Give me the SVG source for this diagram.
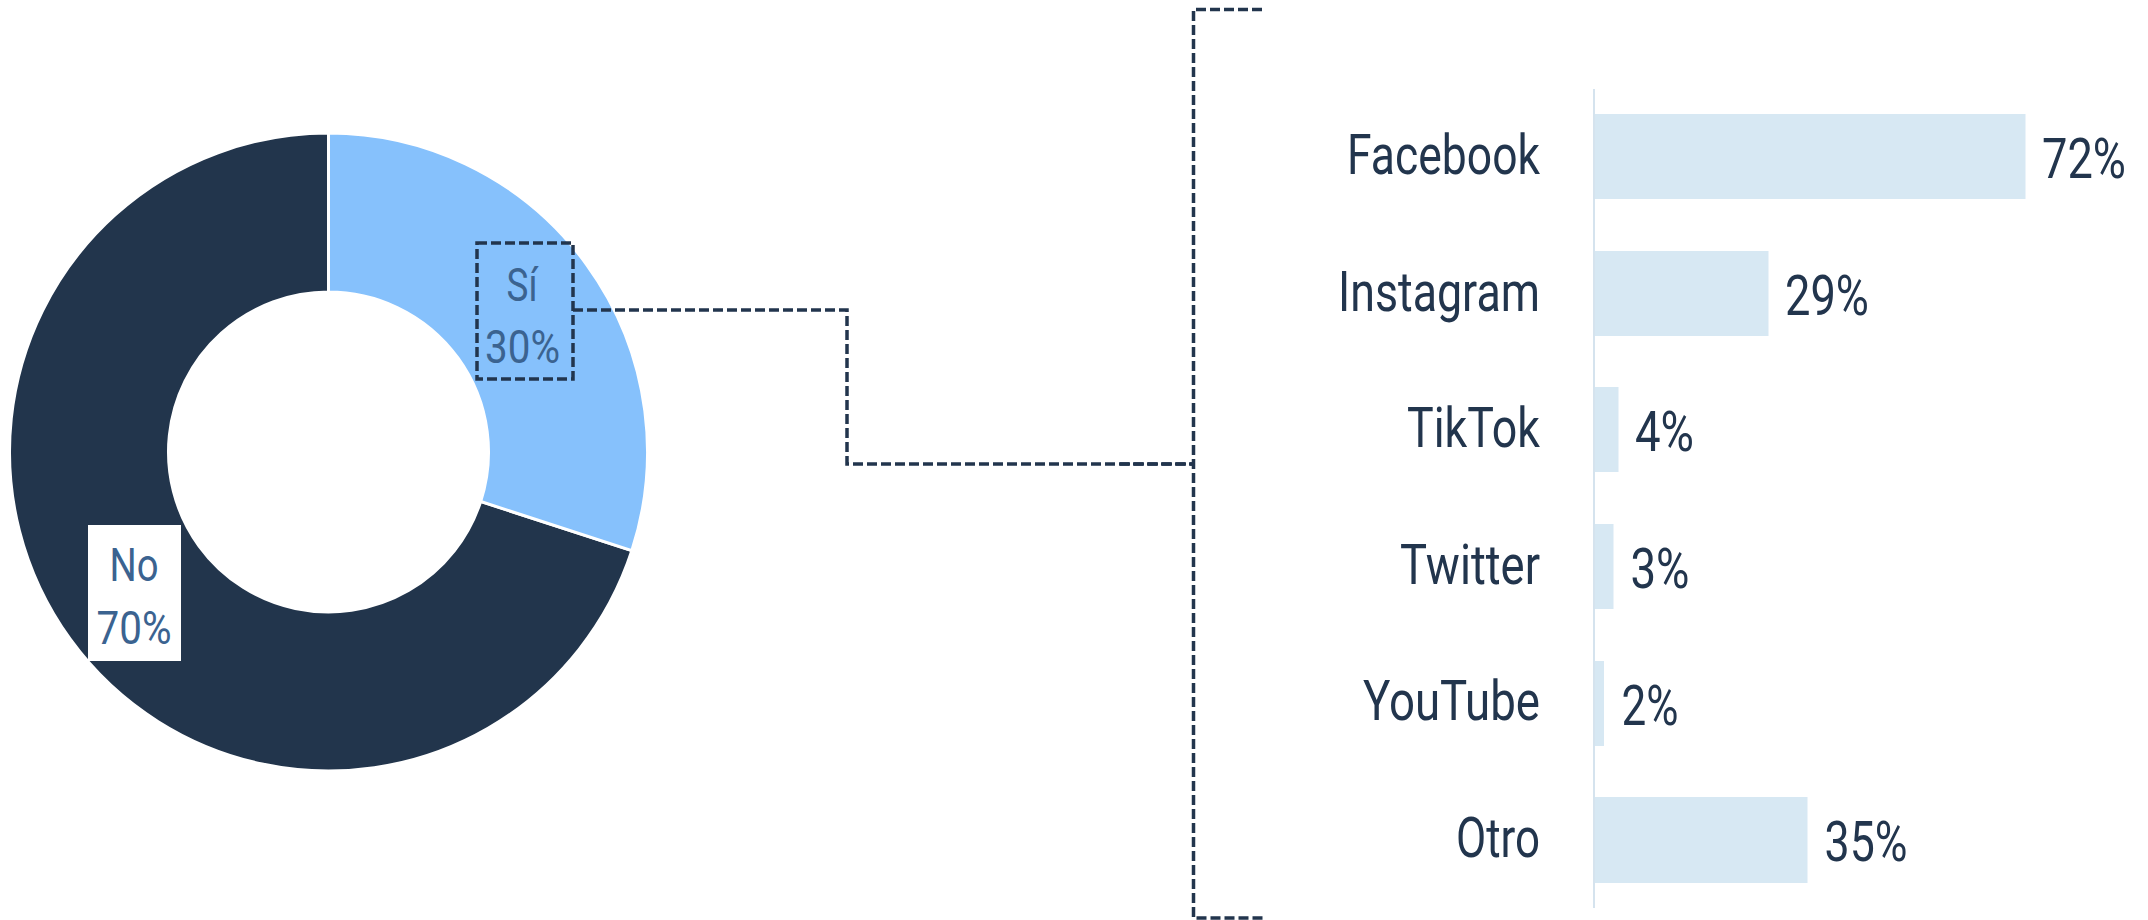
<svg xmlns="http://www.w3.org/2000/svg" width="2148" height="920" viewBox="0 0 2148 920">
<style>
.lbl{font-family:Roboto,"Liberation Sans",sans-serif;font-size:55px;fill:#22354d;}
.cat{text-anchor:end;}
.pie{font-family:Roboto,"Liberation Sans",sans-serif;font-size:47px;fill:#3b6390;text-anchor:middle;}
.bar{fill:#d7e8f3;}
.dash{fill:none;stroke:#22354d;stroke-width:3.5;stroke-dasharray:10 4;}
</style>
<rect width="2148" height="920" fill="#ffffff"/>
<g id="donut">
<path id="slice-no" d="M 631.89 550.58 A 319 319 0 1 1 328.5 133 L 328.5 292 A 160 160 0 1 0 480.67 501.44 Z" fill="#22354c" stroke="#ffffff" stroke-width="3"/>
<path id="slice-si" d="M 328.5 133 A 319 319 0 0 1 631.89 550.58 L 480.67 501.44 A 160 160 0 0 0 328.5 292 Z" fill="#86c1fc" stroke="#ffffff" stroke-width="3"/>
</g>
<g id="label-no">
<rect x="88" y="525" width="93" height="136" fill="#ffffff"/>
<text class="pie" x="134" y="581" textLength="49" lengthAdjust="spacingAndGlyphs">No</text>
<text class="pie" x="134" y="644" textLength="75" lengthAdjust="spacingAndGlyphs">70%</text>
</g>
<g id="label-si">
<rect x="477" y="243" width="96" height="136" fill="#ffffff" class="dash"/>
<text class="pie" x="522" y="301" textLength="31" lengthAdjust="spacingAndGlyphs">Sí</text>
<text class="pie" x="522.5" y="363" textLength="75" lengthAdjust="spacingAndGlyphs">30%</text>
</g>
<g id="connectors">
<path class="dash" d="M 573 310 H 847 V 464 H 1194"/>
<path class="dash" d="M 1262 9.5 H 1193.5 V 918 H 1265"/>
<path class="dash" d="M 1120 464 H 1194"/>
</g>
<g id="bar-chart">
<line x1="1594" y1="89" x2="1594" y2="908" stroke="#d5e3ee" stroke-width="2"/>
<g id="bar-facebook">
<rect class="bar" x="1595" y="114" width="430.5" height="85"/>
<text class="lbl cat" x="1540" y="173.5" textLength="193" lengthAdjust="spacingAndGlyphs">Facebook</text>
<text class="lbl" x="2042" y="178" textLength="84" lengthAdjust="spacingAndGlyphs">72%</text>
</g>
<g id="bar-instagram">
<rect class="bar" x="1595" y="251" width="173.5" height="85"/>
<text class="lbl cat" x="1540" y="310.5" textLength="202" lengthAdjust="spacingAndGlyphs">Instagram</text>
<text class="lbl" x="1785" y="315" textLength="84" lengthAdjust="spacingAndGlyphs">29%</text>
</g>
<g id="bar-tiktok">
<rect class="bar" x="1595" y="387" width="23.5" height="85"/>
<text class="lbl cat" x="1540" y="447" textLength="133" lengthAdjust="spacingAndGlyphs">TikTok</text>
<text class="lbl" x="1635" y="451" textLength="59" lengthAdjust="spacingAndGlyphs">4%</text>
</g>
<g id="bar-twitter">
<rect class="bar" x="1595" y="524" width="18.5" height="85"/>
<text class="lbl cat" x="1540" y="583.5" textLength="140" lengthAdjust="spacingAndGlyphs">Twitter</text>
<text class="lbl" x="1630.5" y="587.5" textLength="59" lengthAdjust="spacingAndGlyphs">3%</text>
</g>
<g id="bar-youtube">
<rect class="bar" x="1595" y="661" width="9" height="85"/>
<text class="lbl cat" x="1540" y="720" textLength="177" lengthAdjust="spacingAndGlyphs">YouTube</text>
<text class="lbl" x="1621.5" y="725" textLength="57" lengthAdjust="spacingAndGlyphs">2%</text>
</g>
<g id="bar-otro">
<rect class="bar" x="1595" y="797" width="212.5" height="86"/>
<text class="lbl cat" x="1540" y="857" textLength="84" lengthAdjust="spacingAndGlyphs">Otro</text>
<text class="lbl" x="1824.5" y="860.5" textLength="83" lengthAdjust="spacingAndGlyphs">35%</text>
</g>
</g>
</svg>
